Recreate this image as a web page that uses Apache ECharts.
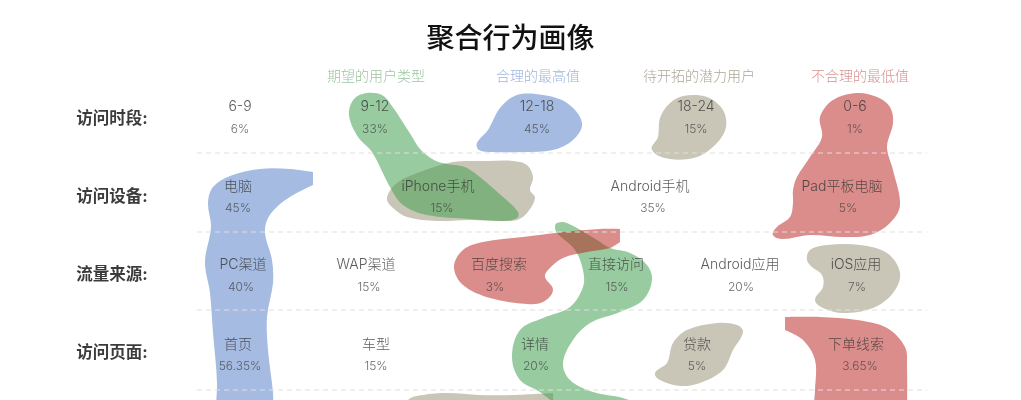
<!DOCTYPE html>
<html>
<head>
<meta charset="utf-8">
<style>
	html, body { margin: 0; padding: 0; background: #fff; }
	#chart { width: 1021px; height: 400px; }
</style>
<script src="https://cdn.jsdelivr.net/npm/echarts@6/dist/echarts.min.js"></script>
</head>
<body>
<div id="chart"></div>
<script>
const chartTitle = "聚合行为画像";
const groupNames = ["期望的用户类型", "合理的最高值", "待开拓的潜力用户", "不合理的最低值"];
const rowNames = ["访问时段:", "访问设备:", "流量来源:", "访问页面:"];

const timeNames = ["6-9", "9-12", "12-18", "18-24", "0-6"];
const timeShares = ["6%", "33%", "45%", "15%", "1%"];
const deviceNames = ["电脑", "iPhone手机", "Android手机", "Pad平板电脑"];
const deviceShares = ["45%", "15%", "35%", "5%"];
const sourceNames = ["PC渠道", "WAP渠道", "百度搜索", "直接访问", "Android应用", "iOS应用"];
const sourceShares = ["40%", "15%", "3%", "15%", "20%", "7%"];
const pageNames = ["首页", "车型", "详情", "贷款", "下单线索"];
const pageShares = ["56.35%", "15%", "20%", "5%", "3.65%"];

// blob outlines, on the page-sized value axes. a repeated point makes a corner
const blueColumn = [[313,172],[313,172],[290,169],[260,169],[230,176],[213,187],[208,203],[211,227],[205,262],[210,293],[213,333],[217,383],[215,415],[215,415],[273,415],[273,415],[273,393],[268,350],[267,317],[273,283],[272,260],[265,233],[268,218],[280,204],[295,194],[313,185],[313,185]];
const blueTime = [[517,95],[543,95],[567,103],[582,123],[573,140],[553,150],[523,152],[492,152],[479,150],[477,143],[488,130],[500,108]];
const greenPhone = [[367,93],[382,95],[392,106],[411,135],[420,149],[434,160],[447,164],[467,168],[503,197],[518,212],[517,218],[503,221],[470,219],[427,215],[403,205],[390,187],[372,152],[358,137],[349,115],[354,99]];
const greenDirect = [[557,223],[567,223],[597,240],[610,248],[630,253],[647,265],[652,280],[643,300],[620,312],[590,323],[573,340],[563,363],[570,380],[593,392],[623,398],[660,412],[660,412],[565,412],[565,412],[540,392],[520,380],[512,357],[520,330],[543,318],[570,307],[583,287],[583,270],[575,250],[557,233],[555,227]];
const beigeTime = [[683,96],[669,104],[660,118],[658,137],[652,150],[670,159],[697,157],[717,143],[726,127],[723,110],[707,97]];
const beigePhone = [[397,183],[420,172],[453,162],[487,161],[513,161],[527,165],[533,177],[530,190],[535,198],[527,213],[517,220],[503,221],[470,220],[437,221],[407,217],[393,208],[387,198]];
const beigeIos = [[807,260],[810,250],[827,245],[860,245],[887,253],[900,273],[893,293],[873,308],[843,313],[823,308],[815,300],[823,287],[822,275],[812,267]];
const beigeLoan = [[743,332],[737,325],[717,323],[687,330],[673,343],[667,363],[655,373],[660,380],[680,386],[700,383],[723,370],[733,350]];
const beigeBottom = [[408,400],[423,395],[447,393],[480,395],[513,395],[553,393],[553,393],[554,412],[554,412],[408,412],[408,412]];
const redPad = [[857,93],[833,100],[820,117],[822,137],[810,157],[797,177],[793,190],[793,203],[790,217],[777,227],[773,235],[783,239],[810,235],[843,237],[870,235],[890,223],[900,205],[893,170],[887,147],[893,123],[890,107],[877,97]];
const redSearch = [[620,229],[620,229],[620,242],[620,242],[610,248],[587,252],[563,258],[548,270],[545,277],[553,290],[543,302],[527,304],[490,298],[463,285],[454,267],[463,250],[483,242],[523,237],[563,232],[600,229]];
const redOrder = [[785,317],[785,317],[785,330],[785,330],[803,340],[815,360],[815,390],[813,412],[813,412],[907,412],[907,412],[907,367],[905,347],[887,328],[857,320],[820,317]];

const beigeBlobs = [beigeTime, beigePhone, beigeIos, beigeLoan, beigeBottom];
const greenBlobs = [greenPhone, greenDirect];
const redBlobs = [redPad, redSearch, redOrder];
const blueBlobs = [blueColumn, blueTime];

// where the texts sit on the same axes
const groupX = [376, 538, 699, 860];
const groupY = 77;
const rowLabelX = 112;
const rowLabelY = [119, 197, 275, 353];
const nameY = [107, 187, 265, 345];
const shareY = [129, 208, 287, 366];
const timeX = [240, 375, 537, 696, 855];
const deviceX = [238, 438, 650, 842];
const deviceShareX = [238, 442, 653, 848];
const sourceX = [243, 366, 499, 616, 740, 856];
const sourceShareX = [241, 369, 495, 617, 741, 857];
const pageX = [238, 376, 535, 697, 856];
const pageShareX = [240, 376, 536, 697, 860];
const dividerY = [153, 232, 310, 390];
const dividerX = [197, 927];

const textFont = '"Inter", "Noto Sans CJK SC", sans-serif';
const groupColors = ["#80b586", "#84a1d3", "#968f78", "#cc7472"];

const sameXY = (a, b) => a[0] === b[0] && a[1] === b[1];

// unit tangent at a point, zero at a corner
const tangentAt = (pts, i) => {
	const n = pts.length;
	const prev = pts[(i - 1 + n) % n];
	const next = pts[(i + 1) % n];
	if (sameXY(prev, pts[i]) || sameXY(next, pts[i])) {
		return [0, 0];
	}
	const dx = next[0] - prev[0];
	const dy = next[1] - prev[1];
	const len = Math.hypot(dx, dy) || 1;
	return [dx / len, dy / len];
};

const smoothPath = (pts) => {
	const n = pts.length;
	let d = "M" + pts[0][0] + " " + pts[0][1];
	for (let i = 0; i < n; i++) {
		const a = pts[i];
		const b = pts[(i + 1) % n];
		const ta = tangentAt(pts, i);
		const tb = tangentAt(pts, (i + 1) % n);
		const k = Math.hypot(b[0] - a[0], b[1] - a[1]) / 3;
		d += "C" + (a[0] + ta[0] * k) + " " + (a[1] + ta[1] * k) +
			" " + (b[0] - tb[0] * k) + " " + (b[1] - tb[1] * k) +
			" " + b[0] + " " + b[1];
	}
	return d + "Z";
};

const blobSeries = (name, blobs, color) => ({
	name,
	type: "custom",
	coordinateSystem: "cartesian2d",
	silent: true,
	clip: true,
	data: blobs.map((b, i) => [i]),
	renderItem: (params, api) => ({
		type: "path",
		shape: {
			pathData: smoothPath(blobs[api.value(0)].map((p) => api.coord(p))),
		},
		style: { fill: color },
	}),
});

const textSeries = (name, xs, ys, texts, label, colors) => ({
	name,
	type: "scatter",
	symbolSize: 0,
	silent: true,
	data: texts.map((t, i) => ({
		value: [xs[i], Array.isArray(ys) ? ys[i] : ys, t],
		label: colors ? { color: colors[i] } : {},
	})),
	label: {
		show: true,
		position: "inside",
		align: "center",
		verticalAlign: "middle",
		fontFamily: textFont,
		formatter: (p) => p.value[2],
		...label,
	},
	z: 10,
});

const nameLabel = { fontSize: 14, fontWeight: 300, color: "#333" };
const shareLabel = { fontSize: 12, fontWeight: 300, color: "#444" };
const groupLabel = { fontSize: 14, fontWeight: 300 };
const rowLabel = { fontSize: 16.5, fontWeight: 700, color: "#0a0a0a" };

const dividerSeries = dividerY.map((y) => ({
	type: "line",
	silent: true,
	symbol: "none",
	data: dividerX.map((x) => [x, y]),
	lineStyle: { color: "#dfdfdf", width: 1, type: [5, 4] },
}));

const myChart = echarts.init(document.getElementById("chart"));
myChart.setOption({
	animation: false,
	backgroundColor: "#fff",
	title: {
		text: chartTitle,
		left: "center",
		top: 26,
		padding: 0,
		textStyle: { fontFamily: textFont, fontSize: 28, fontWeight: 500, color: "#111" },
	},
	grid: { left: 0, right: 0, top: 0, bottom: 0 },
	xAxis: { type: "value", min: 0, max: 1021, show: false },
	yAxis: { type: "value", min: 0, max: 400, inverse: true, show: false },
	series: [
		...dividerSeries,
		blobSeries("beige", beigeBlobs, "#c9c5b7"),
		blobSeries("green", greenBlobs, "rgba(69,160,82,0.55)"),
		blobSeries("red", redBlobs, "rgba(182,28,22,0.5)"),
		blobSeries("blue", blueBlobs, "#a5bbe2"),
		textSeries("groups", groupX, groupY, groupNames, groupLabel, groupColors),
		textSeries("rows", rowNames.map(() => rowLabelX), rowLabelY, rowNames, rowLabel),
		textSeries("timeNames", timeX, nameY[0], timeNames, nameLabel),
		textSeries("timeShares", timeX, shareY[0], timeShares, shareLabel),
		textSeries("deviceNames", deviceX, nameY[1], deviceNames, nameLabel),
		textSeries("deviceShares", deviceShareX, shareY[1], deviceShares, shareLabel),
		textSeries("sourceNames", sourceX, nameY[2], sourceNames, nameLabel),
		textSeries("sourceShares", sourceShareX, shareY[2], sourceShares, shareLabel),
		textSeries("pageNames", pageX, nameY[3], pageNames, nameLabel),
		textSeries("pageShares", pageShareX, shareY[3], pageShares, shareLabel),
	],
});
</script>
</body>
</html>
